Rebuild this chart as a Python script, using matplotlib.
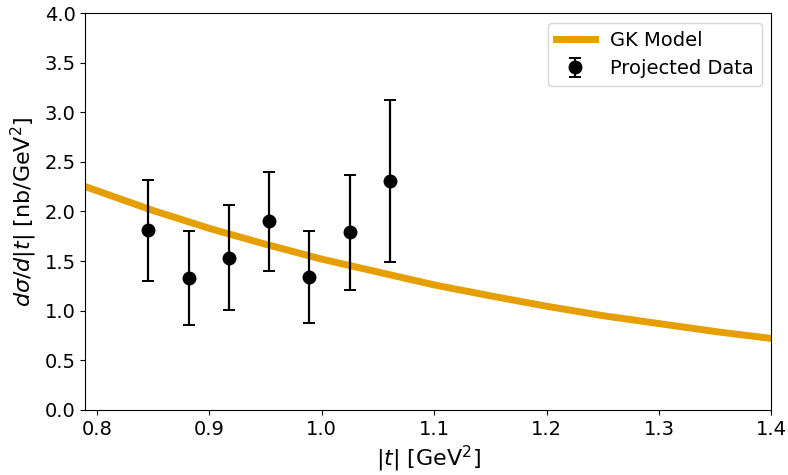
import numpy as np
import matplotlib
matplotlib.use('Agg')
import matplotlib.pyplot as plt

# GK model curve
model_t = [0.79, 0.80, 0.85, 0.90, 0.95, 1.00, 1.05, 1.10, 1.15, 1.20, 1.25, 1.30, 1.35, 1.40]
model_xs = [2.25, 2.21, 2.01, 1.83, 1.67, 1.52, 1.39, 1.26, 1.15, 1.045, 0.95, 0.87, 0.79, 0.72]

# projected data points
data_t = [0.846, 0.882, 0.918, 0.9535, 0.989, 1.025, 1.0605]
data_xs = [1.81, 1.33, 1.535, 1.90, 1.34, 1.79, 2.31]
data_err = [0.51, 0.475, 0.53, 0.50, 0.465, 0.58, 0.815]

fig, ax = plt.subplots(figsize=(7.88, 4.75), dpi=100)
fig.subplots_adjust(left=0.1085, right=0.979, top=0.9726, bottom=0.137)

ax.plot(model_t, model_xs, color='#E69F00', lw=5, label='GK Model')
ax.errorbar(data_t, data_xs, yerr=data_err, fmt='o', color='black', ms=9,
            elinewidth=1.6, capsize=4, capthick=1.4, label='Projected Data')

ax.set_xlim(0.79, 1.4)
ax.set_ylim(0, 4)
ax.set_yticks(np.arange(0, 4.01, 0.5))
ax.tick_params(labelsize=14)
ax.set_xlabel(r'$|t|$ [GeV$^2$]', fontsize=16)
ax.set_ylabel(r'$d\sigma/d|t|$ [nb/GeV$^2$]', fontsize=16)
ax.legend(loc='upper right', fontsize=14)

plt.savefig('out.png')
